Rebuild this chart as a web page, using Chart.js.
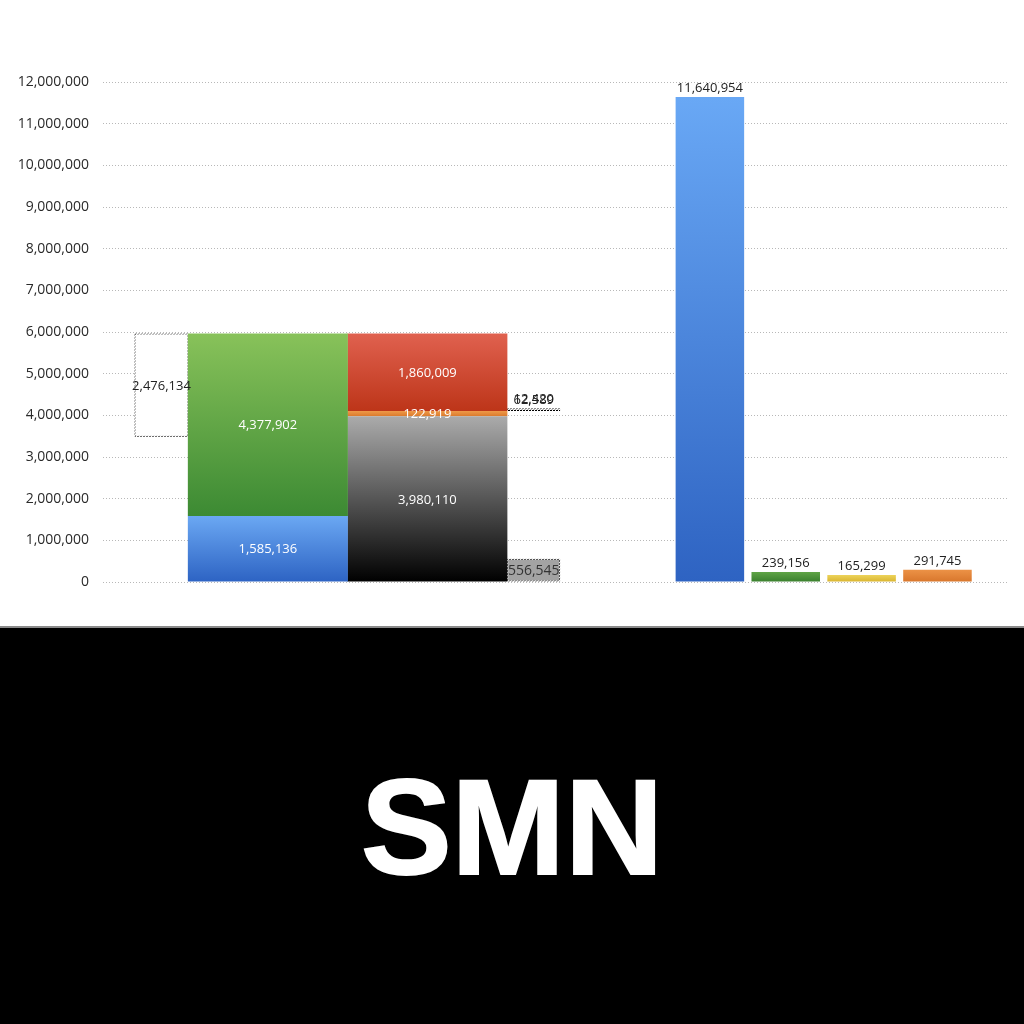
<!DOCTYPE html>
<html>
<head>
<meta charset="utf-8">
<script src="https://cdn.jsdelivr.net/npm/chart.js@4.4.0/dist/chart.umd.min.js"></script>
<style>
  html, body { margin: 0; padding: 0; background: #fff; }
  #wrap { width: 1024px; height: 1024px; position: relative; overflow: hidden; }
  #top { position: absolute; left: 0; top: 0; width: 1024px; height: 626px; }
  #bottom { position: absolute; left: 0; top: 626px; width: 1024px; height: 398px; background: #000; border-top: 2px solid #8a8a8a; box-sizing: border-box; }
  #bottom span { position: absolute; left: 0; width: 1024px; top: 131px; text-align: center; color: #fff;
    font-family: "Liberation Sans", Arial, sans-serif; font-weight: bold; font-size: 136px; line-height: 136px;
    -webkit-text-stroke: 2px #fff; }
</style>
</head>
<body>
<div id="wrap">
  <div id="top"><canvas id="chart"></canvas></div>
  <div id="bottom"><span>SMN</span></div>
</div>
<script>
// values
const leftCategories = ['A', 'B']
const columnA = [1585136, 4377902]            // blue, green
const columnB = [3980110, 122919, 1860009]    // black, orange, red
const differenceValue = 2476134
const sideValues = [62589, 12420]
const otherValue = 556545
const rightCategories = ['R1', 'R2', 'R3', 'R4']
const rightValues = [11640954, 239156, 165299, 291745]
const yTickMax = 12000000
const yTickStep = 1000000

// colours
const columnAColors = [['#6ba8f3', '#2d63c3'], ['#88c25a', '#3c8a33']]
const columnBColors = [['#ababab', '#000000'], ['#ee9a48', '#db7a2c'], ['#e0614f', '#bd3519']]
const rightColors = [['#69a8f5', '#2e63c2'], ['#5fa446', '#3a7f2e'], ['#ecd35a', '#d9b42e'], ['#ec9246', '#d8762c']]

// slot grid of the two hidden category axes (layout only)
const LEFT_SLOTS = 171
const slotDiff = 11, slotA = 31, slotB = 61, slotSide = 81
const RIGHT_SLOTS = 144
const RIGHT_FIRST = 96, RIGHT_STEP = 12

const fmt = v => Math.round(v).toLocaleString('en-US')
const sum = arr => arr.reduce((a, b) => a + b, 0)
const FONT = '"Open Sans", "Noto Sans", sans-serif'

function segments(values, start) {
    let acc = start || 0
    return values.map(v => { const s = [acc, acc + v]; acc += v; return s })
}

function slotData(n, idx, value) {
    const d = new Array(n).fill(null)
    d[idx] = value
    return d
}

function barGradient(top, bottom) {
    return (c) => {
        const chart = c.chart
        if (!chart.chartArea || c.raw == null) return bottom
        const lo = Array.isArray(c.raw) ? c.raw[0] : 0
        const hi = Array.isArray(c.raw) ? c.raw[1] : c.raw
        const ys = chart.scales.y
        const y0 = ys.getPixelForValue(hi), y1 = ys.getPixelForValue(lo)
        if (y1 - y0 < 1) return top
        const g = chart.ctx.createLinearGradient(0, y0, 0, y1)
        g.addColorStop(0, top)
        g.addColorStop(1, bottom)
        return g
    }
}

// 2 on / 1 off dots in both directions, used as a bar border
function dotPattern(color) {
    const c = document.createElement('canvas')
    c.width = 3; c.height = 3
    const g = c.getContext('2d')
    g.fillStyle = color
    for (let x = 0; x < 3; x++) {
        for (let y = 0; y < 3; y++) {
            if ((x + y) % 3 !== 2) g.fillRect(x, y, 1, 1)
        }
    }
    return g.createPattern(c, 'repeat')
}

const dotted = dotPattern('#000')
const leftLabels = new Array(LEFT_SLOTS).fill('')
leftLabels[slotA] = leftCategories[0]
leftLabels[slotB] = leftCategories[1]
const rightLabels = new Array(RIGHT_SLOTS).fill('')
rightCategories.forEach((c, i) => { rightLabels[RIGHT_FIRST + i * RIGHT_STEP] = c })

const datasets = []
segments(columnA).forEach((seg, i) => {
    datasets.push({
        xAxisID: 'xL', data: slotData(LEFT_SLOTS, slotA, seg),
        backgroundColor: barGradient(columnAColors[i][0], columnAColors[i][1]),
        barPercentage: 30.09, labelPos: 'center', labelColor: '#fff'
    })
})
segments(columnB).forEach((seg, i) => {
    datasets.push({
        xAxisID: 'xL', data: slotData(LEFT_SLOTS, slotB, seg),
        backgroundColor: barGradient(columnBColors[i][0], columnBColors[i][1]),
        barPercentage: 30.09, labelPos: 'center', labelColor: '#fff'
    })
})
const topA = sum(columnA)
datasets.push({
    xAxisID: 'xL', data: slotData(LEFT_SLOTS, slotDiff, [topA - differenceValue, topA]),
    backgroundColor: '#fff', borderColor: dotted, borderWidth: 1, borderSkipped: false,
    barPercentage: 10.15, labelPos: 'center', labelColor: '#222'
})
datasets.push({
    xAxisID: 'xL', data: slotData(LEFT_SLOTS, slotSide, [0, otherValue]),
    backgroundColor: '#a3a3a3', borderColor: dotted, borderWidth: 1, borderSkipped: false,
    barPercentage: 9.97, labelPos: 'center', labelColor: '#333', labelSize: 14
})
segments(sideValues, columnB[0] + columnB[1]).forEach(seg => {
    datasets.push({
        xAxisID: 'xL', data: slotData(LEFT_SLOTS, slotSide, seg),
        backgroundColor: '#fff', borderColor: dotted, borderWidth: 1, borderSkipped: false,
        barPercentage: 9.97, labelPos: 'top', labelColor: '#222'
    })
})
const rightData = new Array(RIGHT_SLOTS).fill(null)
rightValues.forEach((v, i) => { rightData[RIGHT_FIRST + i * RIGHT_STEP] = v })
datasets.push({
    xAxisID: 'xR', data: rightData,
    backgroundColor: (c) => {
        const col = rightColors[Math.round((c.dataIndex - RIGHT_FIRST) / RIGHT_STEP)] || rightColors[0]
        return barGradient(col[0], col[1])(c)
    },
    barPercentage: 10.84, labelPos: 'top', labelColor: '#222'
})

const valueLabels = {
    id: 'valueLabels',
    afterDatasetsDraw(chart) {
        const ctx = chart.ctx
        ctx.save()
        chart.data.datasets.forEach((ds, di) => {
            const meta = chart.getDatasetMeta(di)
            meta.data.forEach((bar, i) => {
                const raw = ds.data[i]
                if (raw == null) return
                const v = Array.isArray(raw) ? raw[1] - raw[0] : raw
                ctx.font = (ds.labelSize || 13) + 'px ' + FONT
                ctx.fillStyle = ds.labelColor
                ctx.textAlign = 'center'
                if (ds.labelPos === 'top') {
                    ctx.textBaseline = 'bottom'
                    ctx.fillText(fmt(v), bar.x, Math.min(bar.y, bar.base) - 2)
                } else {
                    ctx.textBaseline = 'middle'
                    ctx.fillText(fmt(v), bar.x, (bar.y + bar.base) / 2 + 1)
                }
            })
        })
        ctx.restore()
    }
}

const canvas = document.getElementById('chart')
canvas.width = 1024
canvas.height = 626
new Chart(canvas.getContext('2d'), {
    type: 'bar',
    data: { labels: leftLabels, datasets: datasets },
    plugins: [valueLabels],
    options: {
        responsive: false,
        animation: false,
        events: [],
        layout: { padding: { left: 15, right: 17, top: 82, bottom: 44 } },
        datasets: { bar: { grouped: false, categoryPercentage: 1 } },
        plugins: { legend: { display: false }, tooltip: { enabled: false } },
        scales: {
            xL: { type: 'category', labels: leftLabels, offset: false, display: false, ticks: { autoSkip: false } },
            xR: { type: 'category', labels: rightLabels, offset: false, display: false, ticks: { autoSkip: false } },
            y: {
                min: 0, max: yTickMax,
                afterFit: (s) => { s.width = 88 },
                ticks: {
                    stepSize: yTickStep, padding: 14, color: '#2a2a2a',
                    font: { family: FONT, size: 14 },
                    callback: v => fmt(v)
                },
                grid: { color: '#b8b8b8', drawTicks: false, lineWidth: 1 },
                border: { display: false, dash: [1, 2] }
            }
        }
    }
})
</script>
</body>
</html>
